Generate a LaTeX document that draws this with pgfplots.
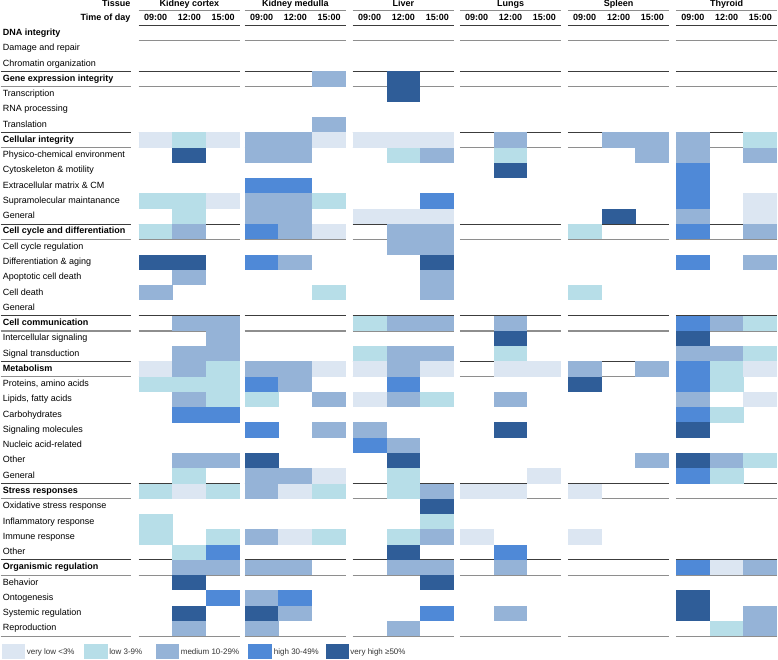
\documentclass[border=0pt]{standalone}
\usepackage{pgfplots}
\pgfplotsset{compat=1.18}
\usepackage{pgfplotstable}
\usepackage{fontspec}
\setmainfont{Liberation Sans}
\definecolor{c1}{HTML}{DCE6F2}
\definecolor{c2}{HTML}{B7DEE8}
\definecolor{c3}{HTML}{95B3D7}
\definecolor{c4}{HTML}{4F89D7}
\definecolor{c5}{HTML}{2F5D98}
\definecolor{darkline}{HTML}{3C3C3C}
\definecolor{greyline}{HTML}{8E8E8E}
\pgfdeclareplotmark{cell}{\pgfpathrectangle{\pgfqpoint{-16.95bp}{-7.68bp}}{\pgfqpoint{33.9bp}{15.36bp}}\pgfusepath{fill}}
\pgfdeclareplotmark{nocell}{}

% levels: 0 none, 1 very low, 2 low, 3 medium, 4 high, 5 very high
% columns a=09:00, b=12:00, c=15:00 ; r = row index from top
\pgfplotstableread{
r a b c
0 0 0 0
1 0 0 0
2 0 0 0
3 0 0 0
4 0 0 0
5 0 0 0
6 0 0 0
7 1 2 1
8 0 5 0
9 0 0 0
10 0 0 0
11 2 2 1
12 0 2 0
13 2 3 0
14 0 0 0
15 5 5 0
16 0 3 0
17 3 0 0
18 0 0 0
19 0 3 3
20 0 0 3
21 0 3 3
22 1 3 2
23 2 2 2
24 0 3 2
25 0 4 4
26 0 0 0
27 0 0 0
28 0 3 3
29 0 2 0
30 2 1 2
31 0 0 0
32 2 0 0
33 2 0 2
34 0 2 4
35 0 3 3
36 0 5 0
37 0 0 4
38 0 5 0
39 0 3 0
}\KC
\pgfplotstableread{
r a b c
0 0 0 0
1 0 0 0
2 0 0 0
3 0 0 3
4 0 0 0
5 0 0 0
6 0 0 3
7 3 3 1
8 3 3 0
9 0 0 0
10 4 4 0
11 3 3 2
12 3 3 0
13 4 3 1
14 0 0 0
15 4 3 0
16 0 0 0
17 0 0 2
18 0 0 0
19 0 0 0
20 0 0 0
21 0 0 0
22 3 3 1
23 4 3 0
24 2 0 3
25 0 0 0
26 4 0 3
27 0 0 0
28 5 0 0
29 3 3 1
30 3 1 2
31 0 0 0
32 0 0 0
33 3 1 2
34 0 0 0
35 3 3 0
36 0 0 0
37 3 4 0
38 5 3 0
39 3 0 0
}\KM
\pgfplotstableread{
r a b c
0 0 0 0
1 0 0 0
2 0 0 0
3 0 5 0
4 0 5 0
5 0 0 0
6 0 0 0
7 1 1 1
8 0 2 3
9 0 0 0
10 0 0 0
11 0 0 4
12 1 1 1
13 0 3 3
14 0 3 3
15 0 0 5
16 0 0 3
17 0 0 3
18 0 0 0
19 2 3 3
20 0 0 0
21 2 3 3
22 1 3 1
23 0 4 0
24 1 3 2
25 0 0 0
26 3 0 0
27 4 3 0
28 0 5 0
29 0 2 0
30 0 2 3
31 0 0 5
32 0 0 2
33 0 2 3
34 0 5 0
35 0 3 3
36 0 0 5
37 0 0 0
38 0 0 4
39 0 3 0
}\LI
\pgfplotstableread{
r a b c
0 0 0 0
1 0 0 0
2 0 0 0
3 0 0 0
4 0 0 0
5 0 0 0
6 0 0 0
7 0 3 0
8 0 2 0
9 0 5 0
10 0 0 0
11 0 0 0
12 0 0 0
13 0 0 0
14 0 0 0
15 0 0 0
16 0 0 0
17 0 0 0
18 0 0 0
19 0 3 0
20 0 5 0
21 0 2 0
22 0 1 1
23 0 0 0
24 0 3 0
25 0 0 0
26 0 5 0
27 0 0 0
28 0 0 0
29 0 0 1
30 1 1 0
31 0 0 0
32 0 0 0
33 1 0 0
34 0 4 0
35 0 3 0
36 0 0 0
37 0 0 0
38 0 3 0
39 0 0 0
}\LU
\pgfplotstableread{
r a b c
0 0 0 0
1 0 0 0
2 0 0 0
3 0 0 0
4 0 0 0
5 0 0 0
6 0 0 0
7 0 3 3
8 0 0 3
9 0 0 0
10 0 0 0
11 0 0 0
12 0 5 0
13 2 0 0
14 0 0 0
15 0 0 0
16 0 0 0
17 2 0 0
18 0 0 0
19 0 0 0
20 0 0 0
21 0 0 0
22 3 0 3
23 5 0 0
24 0 0 0
25 0 0 0
26 0 0 0
27 0 0 0
28 0 0 3
29 0 0 0
30 1 0 0
31 0 0 0
32 0 0 0
33 1 0 0
34 0 0 0
35 0 0 0
36 0 0 0
37 0 0 0
38 0 0 0
39 0 0 0
}\SP
\pgfplotstableread{
r a b c
0 0 0 0
1 0 0 0
2 0 0 0
3 0 0 0
4 0 0 0
5 0 0 0
6 0 0 0
7 3 0 2
8 3 0 3
9 4 0 0
10 4 0 0
11 4 0 1
12 3 0 1
13 4 0 3
14 0 0 0
15 4 0 3
16 0 0 0
17 0 0 0
18 0 0 0
19 4 3 2
20 5 0 0
21 3 3 2
22 4 2 1
23 4 2 0
24 3 0 1
25 4 2 0
26 5 0 0
27 0 0 0
28 5 3 2
29 4 2 0
30 0 0 0
31 0 0 0
32 0 0 0
33 0 0 0
34 0 0 0
35 4 1 3
36 0 0 0
37 5 0 0
38 5 0 3
39 0 2 3
}\TH

\newcommand\cellcol[3]{\addplot[cellplot] table[x expr={#2}, y expr={34+15.26*\thisrow{r}}, meta=#3]{#1};}
\newcommand\grouplines[2]{%
  \draw[#2] (138,#1) -- (239.5,#1);
  \draw[#2] (244,#1) -- (345.5,#1);
  \draw[#2] (352,#1) -- (453.5,#1);
  \draw[#2] (459,#1) -- (560.5,#1);
  \draw[#2] (567,#1) -- (668.5,#1);
  \draw[#2] (675,#1) -- (776.5,#1);}
\newcommand\seclines[2]{%
  \grouplines{#1}{darkline, line width=1bp}
  \draw[darkline, line width=1bp] (0,#1) -- (130,#1);
  \grouplines{#2}{greyline, line width=1.2bp}
  \draw[greyline, line width=1.2bp] (0,#2) -- (130,#2);}

\tikzset{
  lab/.style={anchor=west, inner sep=0pt, text height=6.5bp, text depth=1.9bp, font=\fontsize{9bp}{10bp}\selectfont},
  blab/.style={lab, font=\fontsize{9bp}{10bp}\selectfont\bfseries},
  hdr/.style={inner sep=0pt, text height=6.5bp, text depth=1.9bp, font=\fontsize{9bp}{10bp}\selectfont\bfseries},
  leg/.style={anchor=west, inner sep=0pt, text height=6bp, text depth=1.7bp, font=\fontsize{8bp}{9bp}\selectfont, text=black!80}
}

\begin{document}
\begin{tikzpicture}
\begin{axis}[
  scale only axis, width=778bp, height=661bp,
  xmin=0, xmax=778, ymin=0, ymax=661, y dir=reverse,
  hide axis, clip=false,
  cellplot/.style={scatter, only marks, point meta=explicit symbolic,
    scatter/classes={0={mark=nocell},
      1={mark=cell, fill=c1}, 2={mark=cell, fill=c2}, 3={mark=cell, fill=c3},
      4={mark=cell, fill=c4}, 5={mark=cell, fill=c5}}},
]
% cells
\cellcol{\KC}{154.9}{a}\cellcol{\KC}{188.7}{b}\cellcol{\KC}{222.5}{c}
\cellcol{\KM}{260.9}{a}\cellcol{\KM}{294.7}{b}\cellcol{\KM}{328.5}{c}
\cellcol{\LI}{368.9}{a}\cellcol{\LI}{402.7}{b}\cellcol{\LI}{436.5}{c}
\cellcol{\LU}{475.9}{a}\cellcol{\LU}{509.7}{b}\cellcol{\LU}{543.5}{c}
\cellcol{\SP}{583.9}{a}\cellcol{\SP}{617.7}{b}\cellcol{\SP}{651.5}{c}
\cellcol{\TH}{691.9}{a}\cellcol{\TH}{725.7}{b}\cellcol{\TH}{759.5}{c}

% header lines
\grouplines{11}{greyline, line width=1.2bp}
\grouplines{26.37}{darkline, line width=1bp}
\grouplines{41.63}{greyline, line width=1.2bp}
\seclines{72.15}{87.41}
\seclines{133.19}{148.45}
\seclines{224.75}{240.01}
\seclines{316.31}{331.57}
\seclines{362.09}{377.35}
\seclines{484.17}{499.43}
\seclines{560.47}{575.73}
\grouplines{636.77}{greyline, line width=1.2bp}
\draw[greyline, line width=1.2bp] (0,636.77) -- (130,636.77);

% header text
\node[hdr, anchor=east] at (130,5) {Tissue};
\node[hdr, anchor=east] at (130,19) {Time of day};
\node[hdr] at (188.7,5) {Kidney cortex};
\node[hdr] at (294.7,5) {Kidney medulla};
\node[hdr] at (402.7,5) {Liver};
\node[hdr] at (509.7,5) {Lungs};
\node[hdr] at (617.7,5) {Spleen};
\node[hdr] at (725.7,5) {Thyroid};
\pgfplotsinvokeforeach{154.9,188.7,222.5,260.9,294.7,328.5,368.9,402.7,436.5,475.9,509.7,543.5,583.9,617.7,651.5,691.9,725.7,759.5}{
  \node[hdr] at (#1,19) {};}
\node[hdr] at (154.9,19) {09:00};\node[hdr] at (188.7,19) {12:00};\node[hdr] at (222.5,19) {15:00};
\node[hdr] at (260.9,19) {09:00};\node[hdr] at (294.7,19) {12:00};\node[hdr] at (328.5,19) {15:00};
\node[hdr] at (368.9,19) {09:00};\node[hdr] at (402.7,19) {12:00};\node[hdr] at (436.5,19) {15:00};
\node[hdr] at (475.9,19) {09:00};\node[hdr] at (509.7,19) {12:00};\node[hdr] at (543.5,19) {15:00};
\node[hdr] at (583.9,19) {09:00};\node[hdr] at (617.7,19) {12:00};\node[hdr] at (651.5,19) {15:00};
\node[hdr] at (691.9,19) {09:00};\node[hdr] at (725.7,19) {12:00};\node[hdr] at (759.5,19) {15:00};

% row labels
\node[blab] at (2,34.00) {DNA integrity};
\node[lab] at (2,49.26) {Damage and repair};
\node[lab] at (2,64.52) {Chromatin organization};
\node[blab] at (2,79.78) {Gene expression integrity};
\node[lab] at (2,95.04) {Transcription};
\node[lab] at (2,110.30) {RNA processing};
\node[lab] at (2,125.56) {Translation};
\node[blab] at (2,140.82) {Cellular integrity};
\node[lab] at (2,156.08) {Physico-chemical environment};
\node[lab] at (2,171.34) {Cytoskeleton \& motility};
\node[lab] at (2,186.60) {Extracellular matrix \& CM};
\node[lab] at (2,201.86) {Supramolecular maintanance};
\node[lab] at (2,217.12) {General};
\node[blab] at (2,232.38) {Cell cycle and differentiation};
\node[lab] at (2,247.64) {Cell cycle regulation};
\node[lab] at (2,262.90) {Differentiation \& aging};
\node[lab] at (2,278.16) {Apoptotic cell death};
\node[lab] at (2,293.42) {Cell death};
\node[lab] at (2,308.68) {General};
\node[blab] at (2,323.94) {Cell communication};
\node[lab] at (2,339.20) {Intercellular signaling};
\node[lab] at (2,354.46) {Signal transduction};
\node[blab] at (2,369.72) {Metabolism};
\node[lab] at (2,384.98) {Proteins, amino acids};
\node[lab] at (2,400.24) {Lipids, fatty acids};
\node[lab] at (2,415.50) {Carbohydrates};
\node[lab] at (2,430.76) {Signaling molecules};
\node[lab] at (2,446.02) {Nucleic acid-related};
\node[lab] at (2,461.28) {Other};
\node[lab] at (2,476.54) {General};
\node[blab] at (2,491.80) {Stress responses};
\node[lab] at (2,507.06) {Oxidative stress response};
\node[lab] at (2,522.32) {Inflammatory response};
\node[lab] at (2,537.58) {Immune response};
\node[lab] at (2,552.84) {Other};
\node[blab] at (2,568.10) {Organismic regulation};
\node[lab] at (2,583.36) {Behavior};
\node[lab] at (2,598.62) {Ontogenesis};
\node[lab] at (2,613.88) {Systemic regulation};
\node[lab] at (2,629.14) {Reproduction};

% legend
\fill[c1] (1,645) rectangle (24,660);   \node[leg] at (26,652.5) {very low <3\%};
\fill[c2] (83,645) rectangle (107,660); \node[leg] at (108.5,652.5) {low 3-9\%};
\fill[c3] (155,645) rectangle (178,660);\node[leg] at (180,652.5) {medium 10-29\%};
\fill[c4] (247,645) rectangle (271,660);\node[leg] at (273,652.5) {high 30-49\%};
\fill[c5] (325,645) rectangle (348,660);\node[leg] at (349.5,652.5) {very high ≥50\%};
\end{axis}
\end{tikzpicture}
\end{document}
